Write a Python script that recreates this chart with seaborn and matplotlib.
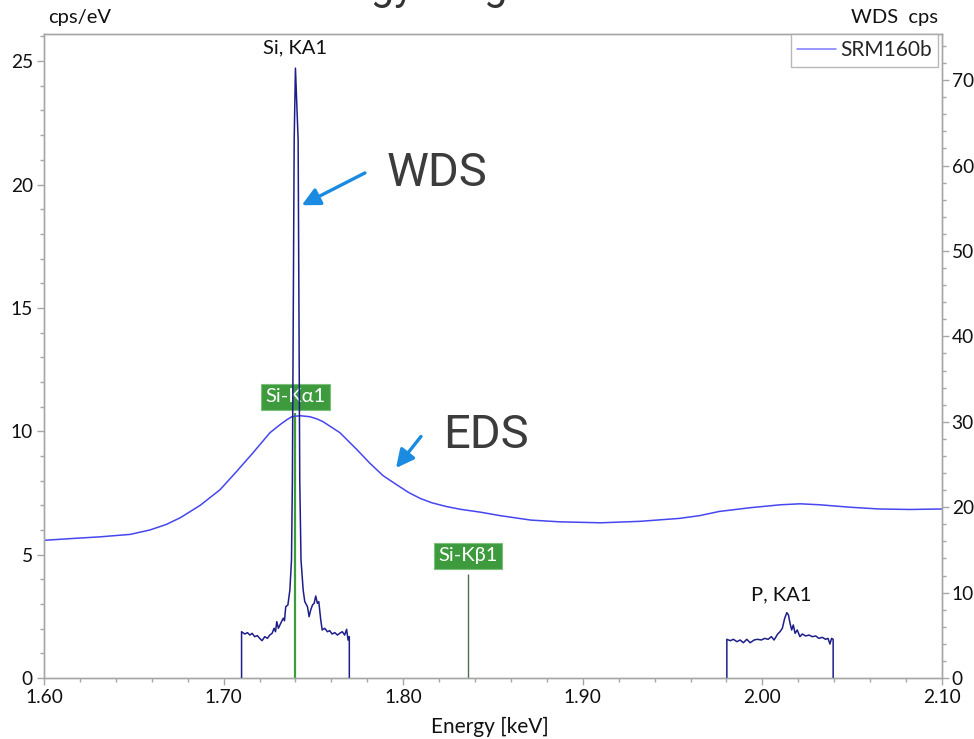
import matplotlib
matplotlib.use("Agg")
import matplotlib.pyplot as plt
from matplotlib.ticker import MultipleLocator, FixedLocator
import seaborn as sns
import pandas as pd

# ---------------- data ----------------
# EDS spectrum (left axis, cps/eV)
eds_energy = [1.600, 1.615, 1.631, 1.648, 1.659, 1.668, 1.676, 1.687, 1.698, 1.707,
              1.7164, 1.7258, 1.7320, 1.7353, 1.7380, 1.7425, 1.7480, 1.7520, 1.7553, 1.7648,
              1.7743, 1.7815, 1.7888, 1.7960, 1.8030, 1.8094, 1.8160, 1.8240, 1.8316, 1.843,
              1.854, 1.871, 1.887, 1.910, 1.932, 1.954, 1.965, 1.976, 1.993, 2.010,
              2.021, 2.032, 2.049, 2.065, 2.082, 2.100]
eds_cps = [5.58, 5.65, 5.72, 5.82, 6.00, 6.22, 6.50, 7.00, 7.63, 8.35,
           9.13, 9.94, 10.30, 10.47, 10.59, 10.63, 10.59, 10.50, 10.39, 9.94,
           9.25, 8.70, 8.20, 7.85, 7.52, 7.28, 7.10, 6.95, 6.84, 6.72,
           6.58, 6.40, 6.33, 6.29, 6.35, 6.47, 6.58, 6.75, 6.90, 7.02,
           7.06, 7.02, 6.92, 6.85, 6.83, 6.85]

# WDS scan around Si KA1 (right axis, cps)
wds_si_energy = [1.7100, 1.7100, 1.7118, 1.7133, 1.7146, 1.7159, 1.7173, 1.7188, 1.7201, 1.7214,
                 1.7229, 1.7244, 1.7257, 1.7270, 1.7281, 1.7289, 1.7296, 1.7305, 1.7318, 1.7332,
                 1.7339, 1.7346, 1.7358, 1.7369, 1.7378, 1.7383, 1.7393, 1.7400, 1.7415, 1.7424,
                 1.7431, 1.7443, 1.7452, 1.7467, 1.7476, 1.7485, 1.7495, 1.7504, 1.7513, 1.7522,
                 1.7530, 1.7541, 1.7549, 1.7563, 1.7578, 1.7591, 1.7604, 1.7619, 1.7634, 1.7646,
                 1.7661, 1.7674, 1.7685, 1.7693, 1.7700, 1.7700]
wds_si_cps = [0.0, 5.42, 5.15, 5.31, 5.03, 5.23, 4.84, 4.96, 4.64, 4.37,
              4.84, 4.64, 5.03, 5.23, 5.82, 5.42, 6.60, 5.82, 6.40, 7.00,
              6.70, 8.35, 8.55, 10.3, 13.8, 23.2, 63.0, 71.4, 63.0, 23.2,
              13.8, 10.3, 8.94, 8.35, 7.18, 7.96, 8.55, 8.74, 9.60, 8.74,
              8.94, 6.79, 5.62, 5.82, 5.42, 5.54, 5.15, 5.31, 5.03, 5.23,
              5.42, 5.03, 5.70, 4.45, 4.84, 0.0]

# WDS scan around P KA1 (right axis, cps)
wds_p_energy = [1.9802, 1.9802, 1.9821, 1.9839, 1.9858, 1.9876, 1.9894, 1.9913, 1.9932, 1.9954,
                1.9972, 1.9994, 2.0013, 2.0032, 2.0050, 2.0065, 2.0085, 2.0098, 2.0111, 2.0124,
                2.0136, 2.0145, 2.0154, 2.0163, 2.0172, 2.0182, 2.0194, 2.0209, 2.0222, 2.0241,
                2.0259, 2.0278, 2.0297, 2.0315, 2.0333, 2.0352, 2.0365, 2.0376, 2.0385, 2.0394,
                2.0394]
wds_p_cps = [0.0, 4.53, 4.37, 4.53, 4.25, 4.45, 4.13, 4.53, 4.13, 4.45,
             4.53, 4.45, 4.64, 4.53, 4.84, 4.45, 5.15, 5.42, 5.82, 6.99,
             7.65, 7.38, 6.40, 5.62, 6.21, 5.23, 5.62, 4.84, 5.15, 4.92,
             5.03, 4.84, 4.92, 4.64, 4.76, 4.53, 4.64, 3.98, 4.64, 4.53,
             0.0]

# EDS line markers
marker_names = ["Si-Kα1", "Si-Kβ1"]
marker_energy = [1.7398, 1.8359]
marker_height = [10.75, 4.2]
marker_label_y = [11.4, 4.96]

# WDS peak labels
wds_label_names = ["Si, KA1", "P, KA1"]
wds_label_energy = [1.7400, 2.0105]
wds_label_y = [25.55, 3.37]

x_ticks = [1.60, 1.70, 1.80, 1.90, 2.00, 2.10]
x_tick_labels = ["1.60", "1.70", "1.80", "1.90", "2.00", "2.10"]

# ---------------- style ----------------
sns.set_theme(style="white")
FONT = ["Lato", "DejaVu Sans"]
plt.rcParams["font.family"] = FONT

EDS_COLOR = "#4646f0"
WDS_COLOR = "#1e1e8a"
GREEN = "#3d9b3d"
SPINE = "#a6a6a6"
ARROW = "#1a8be0"
FS = 14.5
TFS = 13.8

fig = plt.figure(figsize=(9.74, 7.39), dpi=100)
ax = fig.add_axes([44 / 974, 1 - 678 / 739, (942 - 44) / 974, (678 - 34) / 739])
ax2 = ax.twinx()

# EDS
sns.lineplot(x=eds_energy, y=eds_cps, ax=ax, color=EDS_COLOR, lw=1.1,
             estimator=None, sort=False, label="SRM160b", legend=False)

# marker lines (green)
ax.vlines(marker_energy, 0, marker_height, colors=[GREEN, "#4f6b4f"], lw=[1.6, 1.0], zorder=1)
for name, e, y in zip(marker_names, marker_energy, marker_label_y):
    ax.text(e, y, name, ha="center", va="center", color="white", fontsize=FS,
            family=FONT,
            bbox=dict(boxstyle="square,pad=0.22", facecolor=GREEN, edgecolor="#7cc07c", lw=0.8),
            zorder=5)

# WDS on right axis
df_si = pd.DataFrame({"E": wds_si_energy, "cps": wds_si_cps})
df_p = pd.DataFrame({"E": wds_p_energy, "cps": wds_p_cps})
sns.lineplot(data=df_si, x="E", y="cps", ax=ax2, color=WDS_COLOR, lw=1.1,
             estimator=None, sort=False)
sns.lineplot(data=df_p, x="E", y="cps", ax=ax2, color=WDS_COLOR, lw=1.1,
             estimator=None, sort=False)

for name, e, y in zip(wds_label_names, wds_label_energy, wds_label_y):
    ax.text(e, y, name, ha="center", va="center", color="#111111", fontsize=FS, family=FONT)

# axes limits and ticks
ax.set_xlim(1.6, 2.1)
ax.set_ylim(0, 26.1)
ax2.set_ylim(0, 75.4)
ax.xaxis.set_major_locator(FixedLocator(x_ticks))
ax.set_xticklabels(x_tick_labels)
ax.xaxis.set_minor_locator(MultipleLocator(0.02))
ax.yaxis.set_major_locator(MultipleLocator(5))
ax.yaxis.set_minor_locator(MultipleLocator(1))
ax2.yaxis.set_major_locator(MultipleLocator(10))
ax2.yaxis.set_minor_locator(MultipleLocator(2))

for a in (ax, ax2):
    a.set_xlabel("")
    a.set_ylabel("")
    for s in a.spines.values():
        s.set_color(SPINE)
        s.set_linewidth(1.0)
    a.tick_params(which="both", direction="out", color=SPINE, labelcolor="#111111",
                  labelsize=TFS, width=1.0)
    a.tick_params(which="major", length=5)
    a.tick_params(which="minor", length=3)
    a.grid(False)
ax.tick_params(axis="x", which="both", bottom=True, pad=3)
ax.tick_params(axis="y", which="both", left=True, pad=3)
ax2.tick_params(axis="y", which="both", right=True, pad=2)
for lab in ax.get_xticklabels() + ax.get_yticklabels() + ax2.get_yticklabels():
    lab.set_family(FONT)

# legend
h, l = ax.get_legend_handles_labels()
leg = ax2.legend(h, l, loc="upper right", bbox_to_anchor=(0.996, 1.0), frameon=True,
                 fancybox=False, edgecolor=SPINE, handlelength=1.9,
                 handletextpad=0.2, borderpad=0.3, borderaxespad=0.0,
                 prop={"family": FONT, "size": FS + 0.5})
leg.get_frame().set_linewidth(1.0)
for line in leg.get_lines():
    line.set_color("#7a7aff")

# annotations
ax.annotate("", xy=(1.7435, 19.16), xytext=(1.7787, 20.47),
            arrowprops=dict(arrowstyle="-|>,head_length=0.9,head_width=0.45",
                            color=ARROW, lw=2.4, shrinkA=0, shrinkB=0), zorder=6)
ax.annotate("", xy=(1.7960, 8.51), xytext=(1.8099, 9.79),
            arrowprops=dict(arrowstyle="-|>,head_length=0.9,head_width=0.45",
                            color=ARROW, lw=2.4, shrinkA=0, shrinkB=0), zorder=6)
ax.text(1.7905, 20.47, "WDS", ha="left", va="center", fontsize=34, color="#3c3c3c",
        family=["Roboto", "DejaVu Sans"], fontweight="normal")
ax.text(1.8222, 9.84, "EDS", ha="left", va="center", fontsize=34, color="#3c3c3c",
        family=["Roboto", "DejaVu Sans"], fontweight="normal")

# axis titles
fig.text(48 / 974, 1 - 18 / 739, "cps/eV", ha="left", va="center", fontsize=FS,
         color="#111111", family=FONT)
fig.text(938 / 974, 1 - 18 / 739, "WDS  cps", ha="right", va="center", fontsize=FS,
         color="#111111", family=FONT)
fig.text(490 / 974, 1 - 727 / 739, "Energy [keV]", ha="center", va="center", fontsize=FS + 0.5,
         color="#111111", family=FONT)

# cropped slide title (only descenders visible, as in the reference)
fig.text(288 / 974, 1 + 1 / 739, "Energy range", ha="left", va="baseline", fontsize=30,
         color="#333333", family=["Roboto", "DejaVu Sans"])

fig.savefig("out.png", dpi=100, facecolor="white")
